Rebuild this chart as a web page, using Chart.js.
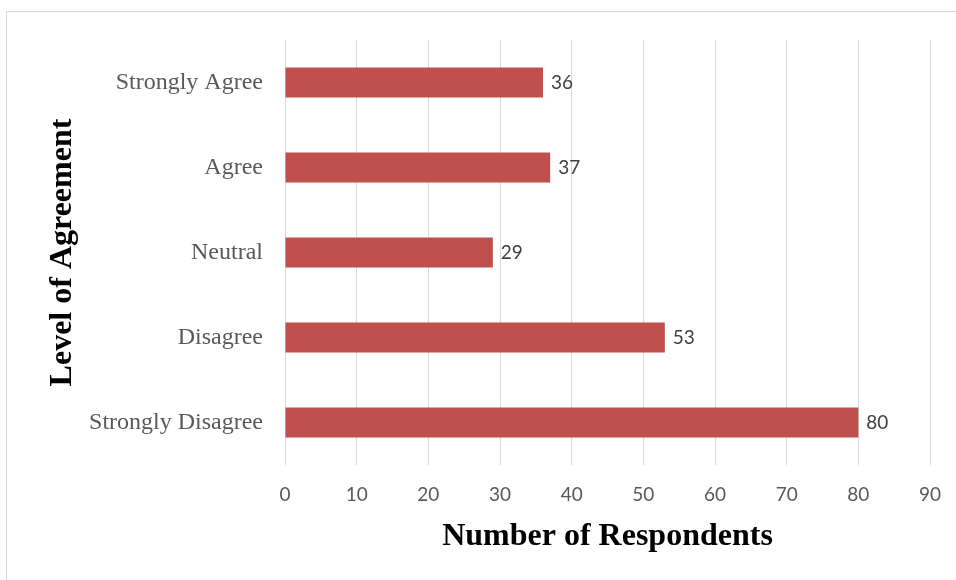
<!DOCTYPE html>
<html>
<head>
<meta charset="utf-8">
<script src="https://cdn.jsdelivr.net/npm/chart.js@4/dist/chart.umd.min.js"></script>
<style>
  html, body { margin: 0; padding: 0; background: #ffffff; }
  #wrap { position: relative; width: 956px; height: 580px; overflow: hidden; }
  #frame { position: absolute; left: 6px; top: 11px; width: 1200px; height: 1200px;
           border-left: 1px solid #d9d9d9; border-top: 1px solid #d9d9d9; }
  canvas { position: absolute; left: 0; top: 0; }
</style>
</head>
<body>
<div id="wrap">
  <div id="frame"></div>
  <canvas id="c" width="956" height="580"></canvas>
</div>
<script>
const categories = ["Strongly Agree", "Agree", "Neutral", "Disagree", "Strongly Disagree"];
const respondents = [36, 37, 29, 53, 80];
const xTickMin = 0;
const xTickMax = 90;
const xTickStep = 10;
const xTitle = "Number of Respondents";
const yTitle = "Level of Agreement";

const valueLabels = {
  id: 'valueLabels',
  afterDatasetsDraw(chart) {
    const ctx = chart.ctx;
    const meta = chart.getDatasetMeta(0);
    ctx.save();
    ctx.font = '19px Lato';
    ctx.fillStyle = '#404040';
    ctx.textAlign = 'left';
    ctx.textBaseline = 'middle';
    meta.data.forEach((bar, i) => {
      ctx.fillText(String(chart.data.datasets[0].data[i]), bar.x + 8, bar.y);
    });
    ctx.restore();
  }
};

new Chart(document.getElementById('c'), {
  type: 'bar',
  data: {
    labels: categories,
    datasets: [{
      data: respondents,
      backgroundColor: '#C0504D',
      borderWidth: 0,
      categoryPercentage: 0.353,
      barPercentage: 1.0
    }]
  },
  options: {
    indexAxis: 'y',
    responsive: false,
    animation: false,
    devicePixelRatio: 1,
    layout: { padding: { left: 0, right: 26, top: 40, bottom: 0 } },
    plugins: { legend: { display: false }, tooltip: { enabled: false } },
    scales: {
      x: {
        min: xTickMin,
        max: xTickMax,
        ticks: {
          stepSize: xTickStep,
          color: '#595959',
          font: { family: 'Lato', size: 19 },
          padding: 18
        },
        grid: { color: '#d9d9d9', lineWidth: 1, drawTicks: false },
        border: { display: false },
        title: {
          display: true,
          text: xTitle,
          color: '#000000',
          font: { family: 'Liberation Serif', size: 32, weight: 'bold' },
          padding: { top: 0, bottom: 24 }
        },
        afterFit(scale) { scale.height = 115; scale.paddingRight = 0; scale.paddingLeft = 0; }
      },
      y: {
        ticks: {
          color: '#595959',
          font: { family: 'Liberation Serif', size: 24 },
          padding: 22
        },
        grid: { display: false, drawTicks: false },
        border: { display: false },
        title: {
          display: true,
          text: yTitle,
          color: '#000000',
          font: { family: 'Liberation Serif', size: 32, weight: 'bold' },
          padding: { top: 44, bottom: 0 }
        },
        afterFit(scale) { scale.width = 285; scale.paddingTop = 0; scale.paddingBottom = 0; }
      }
    }
  },
  plugins: [valueLabels]
});
</script>
</body>
</html>
